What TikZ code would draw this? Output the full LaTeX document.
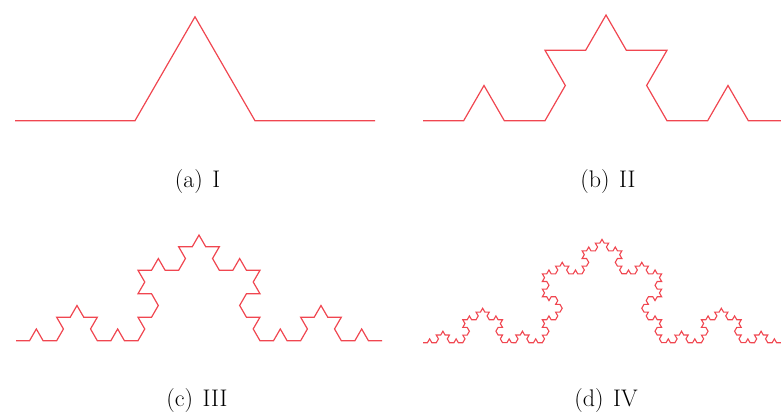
\documentclass[tikz,border=0pt]{standalone}
\usetikzlibrary{decorations.fractals}
\definecolor{koch}{RGB}{240,70,80}
\tikzset{
  kochline/.style={draw=koch, line width=1.2pt, line join=miter, decoration=Koch snowflake},
  captext/.style={anchor=base, font=\fontsize{24}{28}\selectfont, inner sep=0pt}
}
\begin{document}
\begin{tikzpicture}[x=1pt,y=1pt]
\useasboundingbox (0,0) rectangle (781,413);
\clip (0,0) rectangle (781,413);
% (a) iteration I
\draw[kochline] decorate{(15,292.3) -- (375,292.3)};
% (b) iteration II
\draw[kochline] decorate{decorate{(423,292.3) -- (789,292.3)}};
% (c) iteration III
\draw[kochline] decorate{decorate{decorate{(16,72.3) -- (382,72.3)}}};
% (d) iteration IV
\draw[kochline, line width=1.1pt] decorate{decorate{decorate{decorate{(423,70.3) -- (781,70.3)}}}};
% captions
\node[captext] (ca) at (197.5,226) {(a)\hspace{0.4em}I};
\node[captext] (cb) at (608,226) {(b)\hspace{0.4em}II};
\node[captext] (cc) at (197,6.5) {(c)\hspace{0.4em}III};
\node[captext] (cd) at (606,6.5) {(d)\hspace{0.4em}IV};
\end{tikzpicture}
\end{document}
